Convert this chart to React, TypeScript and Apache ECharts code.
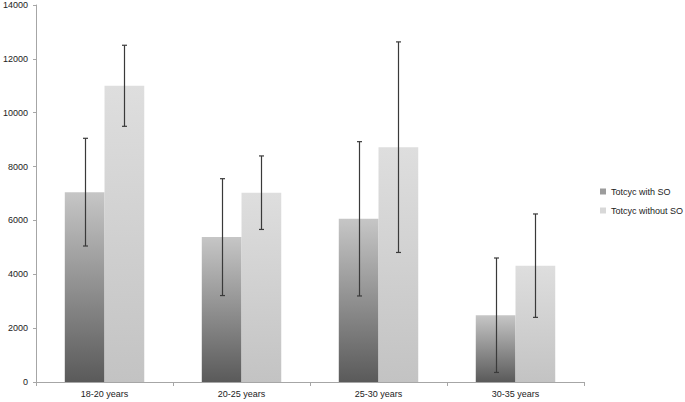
import React, { useEffect, useRef } from "react";
import * as echarts from "echarts";

const categories = ["18-20 years", "20-25 years", "25-30 years", "30-35 years"];
const withSO = [7050, 5380, 6060, 2480];
const withoutSO = [11000, 7030, 8720, 4320];
const withSOErr = [2000, 2170, 2865, 2125];
const withoutSOErr = [1505, 1365, 3910, 1920];
const seriesNames = ["Totcyc with SO", "Totcyc without SO"];

const FONT = "Liberation Sans, Arial, sans-serif";

function errorSeries(values: number[], errs: number[], offset: number) {
  return {
    type: "custom",
    name: "err" + offset,
    z: 10,
    silent: true,
    data: values.map((v, i) => [i, v - errs[i], v + errs[i]]),
    renderItem: (params: any, api: any) => {
      const idx = api.value(0);
      const lo = api.coord([idx, api.value(1)]);
      const hi = api.coord([idx, api.value(2)]);
      const band = api.size([1, 0])[0];
      const x = Math.round(lo[0] + offset * band) + 0.5;
      const cap = 2.5;
      const style = { stroke: "#3a3a3a", lineWidth: 1.2 };
      return {
        type: "group",
        children: [
          { type: "line", shape: { x1: x, y1: lo[1], x2: x, y2: hi[1] }, style },
          { type: "line", shape: { x1: x - cap, y1: lo[1], x2: x + cap, y2: lo[1] }, style },
          { type: "line", shape: { x1: x - cap, y1: hi[1], x2: x + cap, y2: hi[1] }, style },
        ],
      };
    },
  };
}

export default function App() {
  const ref = useRef<HTMLDivElement>(null);
  useEffect(() => {
    if (!ref.current) return;
    const chart = echarts.init(ref.current, null, { renderer: "svg" });
    const darkGrad = new echarts.graphic.LinearGradient(0, 0, 0, 1, [
      { offset: 0, color: "#c6c6c6" },
      { offset: 1, color: "#5a5a5a" },
    ]);
    const lightGrad = new echarts.graphic.LinearGradient(0, 0, 0, 1, [
      { offset: 0, color: "#dedede" },
      { offset: 1, color: "#c3c3c3" },
    ]);
    chart.setOption({
      animation: false,
      backgroundColor: "#ffffff",
      textStyle: { fontFamily: FONT },
      grid: { left: 36, right: 101, top: 5, bottom: 20, containLabel: false },
      legend: {
        data: [
          { name: seriesNames[0], itemStyle: { color: "#9c9c9c" } },
          { name: seriesNames[1], itemStyle: { color: "#d8d8d8" } },
        ],
        orient: "vertical",
        left: 600,
        top: 187,
        padding: 0,
        itemWidth: 6,
        itemHeight: 6,
        itemGap: 10,
        icon: "rect",
        textStyle: { fontSize: 9, color: "#222", fontFamily: FONT, overflow: "none", width: 90 },
      },
      xAxis: {
        type: "category",
        data: categories,
        axisLine: { lineStyle: { color: "#a6a6a6", width: 1 } },
        axisTick: { show: true, alignWithLabel: false, length: 4, lineStyle: { color: "#a6a6a6" } },
        axisLabel: { fontSize: 9, color: "#222", margin: 7, fontFamily: FONT },
      },
      yAxis: {
        type: "value",
        min: 0,
        max: 14000,
        interval: 2000,
        axisLine: { show: true, lineStyle: { color: "#a6a6a6", width: 1 } },
        axisTick: { show: true, length: 3, lineStyle: { color: "#a6a6a6" } },
        splitLine: { show: false },
        axisLabel: {
          fontSize: 9,
          color: "#222",
          margin: 8,
          fontFamily: FONT,
          formatter: (v: number) => String(v),
        },
      },
      series: [
        {
          type: "bar",
          name: seriesNames[0],
          data: withSO,
          barGap: "0%",
          barCategoryGap: "42%",
          itemStyle: { color: darkGrad },
        },
        {
          type: "bar",
          name: seriesNames[1],
          data: withoutSO,
          barGap: "0%",
          barCategoryGap: "42%",
          itemStyle: { color: lightGrad },
        },
        errorSeries(withSO, withSOErr, -0.145),
        errorSeries(withoutSO, withoutSOErr, 0.145),
      ],
    });
    return () => chart.dispose();
  }, []);
  return (
    <div
      ref={ref}
      style={{ width: 685, height: 402, position: "absolute", left: 0, top: 0 }}
    />
  );
}
